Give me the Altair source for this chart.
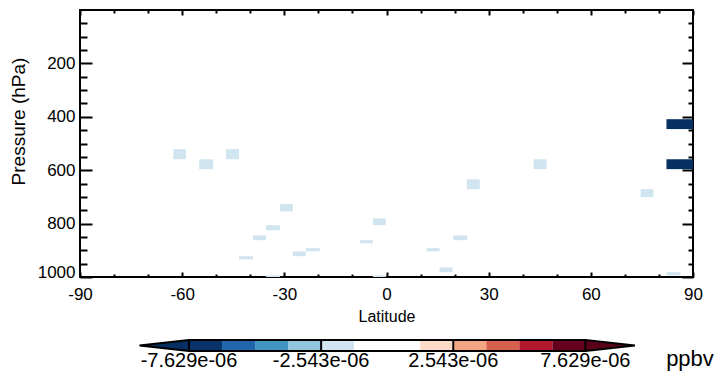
import altair as alt
import pandas as pd

# ---- grid cells (latitude edges, pressure edges, value in ppbv)
cell_lat0 = [-62.6, -55.0, -47.1, 43.2, 23.6, 74.6, 82.2, 82.2, -31.3, -35.4, -39.2,
             -43.3, -27.5, -23.7, -35.4, -4.0, -7.8, 11.8, 19.6, 15.6, -4.0, 82.2]
cell_lat1 = [-58.9, -50.9, -43.3, 47.0, 27.4, 78.4, 90.0, 90.0, -27.5, -31.3, -35.4,
             -39.2, -23.7, -19.6, -31.3, -0.2, -4.0, 15.6, 23.7, 19.4, -0.2, 86.3]
cell_ptop = [521, 559, 521, 559, 634, 671, 409, 559, 727, 806, 844,
             922, 904, 892, 994, 780, 862, 892, 844, 964, 994, 982]
cell_pbot = [559, 596, 559, 596, 671, 701, 446, 596, 754, 825, 862,
             934, 922, 904, 1005, 806, 874, 904, 862, 982, 1005, 994]
cell_val = [-1.9e-06, -1.9e-06, -1.9e-06, -1.9e-06, -1.9e-06, -1.9e-06, -8.0e-06, -8.0e-06,
            -1.9e-06, -1.9e-06, -1.9e-06, -1.9e-06, -1.9e-06, -1.9e-06, -1.9e-06, -1.9e-06,
            -1.9e-06, -1.9e-06, -1.9e-06, -1.9e-06, -1.9e-06, -1.9e-06]

# ---- axes
x_major = [-90, -60, -30, 0, 30, 60, 90]
x_minor = [-80, -70, -50, -40, -20, -10, 10, 20, 40, 50, 70, 80]
y_major = [200, 400, 600, 800, 1000]
y_minor = [50, 100, 150, 250, 300, 350, 450, 500, 550, 650, 700, 750, 850, 900, 950]

# ---- colour bar
cb_edges = [-7.629e-06, -6.357e-06, -5.086e-06, -3.814e-06, -2.543e-06, -1.271e-06, 0.0,
            1.271e-06, 2.543e-06, 3.814e-06, 5.086e-06, 6.357e-06, 7.629e-06]
cb_colors = ["#053061", "#07336a", "#2166ac", "#4393c3", "#92c5de", "#d1e5f0", "#ffffff",
             "#ffffff", "#fddbc7", "#f4a582", "#d6604d", "#b2182b", "#67001f", "#5a0019"]
cb_tips = [-9.536e-06, 9.536e-06]
cb_label_vals = [-7.629e-06, -2.543e-06, 2.543e-06, 7.629e-06]
cb_label_text = ["-7.629e-06", "-2.543e-06", "2.543e-06", "7.629e-06"]
unit_val = [1.1655e-05]
unit_text = ["ppbv"]

W, H = 613, 267
FONT = "Liberation Sans"

cells = pd.DataFrame({"lat0": cell_lat0, "lat1": cell_lat1, "ptop": cell_ptop,
                      "pbot": cell_pbot, "value": cell_val})

color_scale = alt.Scale(type="threshold", domain=cb_edges, range=cb_colors)
xs = alt.Scale(domain=[-90, 90], nice=False, zero=False)
ys = alt.Scale(domain=[0, 1000], reverse=True, nice=False, zero=False)

base = alt.Chart(cells)

cell_layer = base.mark_rect(clip=True).encode(
    x=alt.X("lat0:Q", scale=xs, axis=alt.Axis(
        orient="bottom", values=x_major, ticks=False, domain=False, grid=False,
        labelExpr="'' + datum.value", labelFontSize=17, labelPadding=9, labelFlush=False,
        labelColor="black", title="Latitude", titleFontSize=16, titleFontWeight="normal",
        titleColor="black", titlePadding=6)),
    x2="lat1:Q",
    y=alt.Y("ptop:Q", scale=ys, axis=alt.Axis(
        orient="left", values=y_major, ticks=False, domain=False, grid=False,
        labelExpr="'' + datum.value", labelFontSize=17, labelPadding=5, labelFlush=True,
        labelFlushOffset=4,
        labelColor="black", title="Pressure (hPa)", titleFontSize=19,
        titleFontWeight="normal", titleColor="black", titleX=-62, titleY=111,
        titleBaseline="middle", titleAlign="center", titleAngle=270)),
    y2="pbot:Q",
    color=alt.Color("value:Q", scale=color_scale, legend=None),
)


def tick_layer(xorient, xvals, xsize, yorient, yvals, ysize, xoff, yoff):
    return base.mark_point(opacity=0).encode(
        x=alt.X("lat0:Q", scale=xs, axis=alt.Axis(
            orient=xorient, offset=xoff, values=xvals, tickSize=xsize, tickWidth=2,
            tickColor="black", labels=False, domain=False, grid=False, title=None)),
        y=alt.Y("ptop:Q", scale=ys, axis=alt.Axis(
            orient=yorient, offset=yoff, values=yvals, tickSize=ysize, tickWidth=2,
            tickColor="black", labels=False, domain=False, grid=False, title=None)),
    )


# inward-pointing ticks on all four sides
t1 = tick_layer("top", x_major, 5, "right", y_major, 12, -H, -W)
t2 = tick_layer("top", x_minor, 3, "right", y_minor, 7, -H, -W)
t3 = tick_layer("bottom", x_major, 5, "left", y_major, 11, -H, -W)
t4 = tick_layer("bottom", x_minor, 3, "left", y_minor, 5, -H, -W)

main = alt.layer(cell_layer, t1, t2, t3, t4).resolve_axis(x="independent", y="independent")

# ---- colour bar layers (own scales)
cbx = alt.Scale(domain=[cb_edges[0], cb_edges[-1]], range=[109, 505.4], nice=False, zero=False)
cby = alt.Scale(domain=[0, 1], range=[341, 330], nice=False, zero=False)

bins = pd.DataFrame({"x0": cb_edges[:-1], "x1": cb_edges[1:],
                     "v": [(a + b) / 2 for a, b in zip(cb_edges[:-1], cb_edges[1:])],
                     "y0": 0, "y1": 1})
bar = alt.Chart(bins).mark_rect().encode(
    x=alt.X("x0:Q", scale=cbx, axis=None), x2="x1:Q",
    y=alt.Y("y0:Q", scale=cby, axis=None), y2="y1:Q",
    color=alt.Color("v:Q", scale=color_scale, legend=None))

tri = pd.DataFrame({
    "x": [cb_tips[0], cb_edges[0], cb_tips[1], cb_edges[-1]],
    "ya": [0.5, 0, 0.5, 0], "yb": [0.5, 1, 0.5, 1],
    "v": [cb_tips[0], cb_tips[0], cb_tips[1], cb_tips[1]],
    "side": ["l", "l", "r", "r"]})
tris = alt.Chart(tri).mark_area().encode(
    x=alt.X("x:Q", scale=cbx, axis=None),
    y=alt.Y("ya:Q", scale=cby, axis=None), y2="yb:Q",
    color=alt.Color("v:Q", scale=color_scale, legend=None),
    detail="side:N")

outline = pd.DataFrame({
    "x": [cb_tips[0], cb_edges[0], cb_edges[-1], cb_tips[1], cb_edges[-1], cb_edges[0], cb_tips[0]],
    "y": [0.5, 1, 1, 0.5, 0, 0, 0.5],
    "o": [0, 1, 2, 3, 4, 5, 6]})
frame = alt.Chart(outline).mark_line(color="black", strokeWidth=2, strokeJoin="miter").encode(
    x=alt.X("x:Q", scale=cbx, axis=None),
    y=alt.Y("y:Q", scale=cby, axis=None),
    order="o:Q")

labs = pd.DataFrame({"x": cb_label_vals, "t": cb_label_text, "y0": 0, "y1": 1})
seps = alt.Chart(labs).mark_rule(color="black", strokeWidth=2).encode(
    x=alt.X("x:Q", scale=cbx, axis=None),
    y=alt.Y("y0:Q", scale=cby, axis=None), y2="y1:Q")
texts = alt.Chart(labs).mark_text(baseline="alphabetic", fontSize=20, font=FONT,
                                  color="black", dy=16).encode(
    x=alt.X("x:Q", scale=cbx, axis=None),
    y=alt.Y("y0:Q", scale=cby, axis=None),
    text="t:N")
unit = alt.Chart(pd.DataFrame({"x": unit_val, "t": unit_text, "y0": 0})).mark_text(
    baseline="alphabetic", fontSize=22, font=FONT, color="black", dy=15).encode(
    x=alt.X("x:Q", scale=cbx, axis=None),
    y=alt.Y("y0:Q", scale=cby, axis=None),
    text="t:N")

cbar = alt.layer(bar, tris, frame, seps, texts, unit)

chart = alt.layer(main, cbar).resolve_scale(x="independent", y="independent").properties(
    width=W, height=H,
    autosize=alt.AutoSizeParams(type="none"),
    padding={"left": 72, "top": 2, "right": 26, "bottom": 96},
).configure(font=FONT).configure_view(stroke="black", strokeWidth=2)

chart.save("out.html", embed_options={"renderer": "svg", "actions": False})
